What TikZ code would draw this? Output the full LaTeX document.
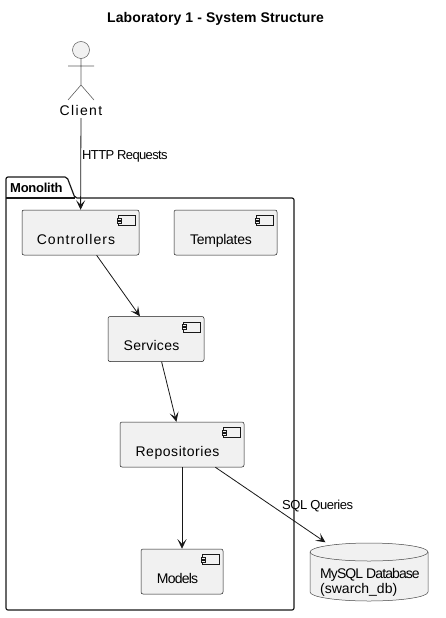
\documentclass[tikz,border=0pt]{standalone}
\usepackage{fontspec}
\setmainfont{Liberation Sans}
\usetikzlibrary{arrows.meta}
\definecolor{lineblack}{HTML}{181818}
\definecolor{boxgrey}{HTML}{F1F1F1}
\newcommand{\spaced}[2]{{\addfontfeature{LetterSpace=#1}#2}}
\tikzset{
  comptext/.style={font=\fontsize{14}{16}\selectfont, text=black, inner sep=0pt, text height=10pt, text depth=3pt},
  compbox/.style={draw=lineblack, line width=0.5pt, fill=boxgrey, rounded corners=2pt, minimum height=45pt, inner sep=0pt,
    label={[comptext, xshift=-4.5pt, yshift=-8pt]center:#1}},
  edgetext/.style={font=\fontsize{13}{15}\selectfont, inner sep=0pt},
  flow/.style={draw=lineblack, line width=0.8pt, -{Stealth[length=9.5pt, width=9pt, inset=4.5pt]}},
}
\begin{document}
\begin{tikzpicture}[x=1pt, y=-1pt]
  \useasboundingbox (0,0) rectangle (445,618);
  \node [font=\bfseries\fontsize{14}{16}\selectfont] (title) at (215.5,18.5) {\spaced{1}{Laboratory 1 - System Structure}};
  % package
  \draw [lineblack, line width=1.2pt, rounded corners=2pt, fill=white] (6,198) -- (6,177) -- (67,177) -- (75,198) -- (294,198) -- (294,610) -- (6,610) -- cycle;
  \draw [lineblack, line width=1.2pt] (6,198) -- (75,198);
  \node [right, inner sep=0pt, font=\bfseries\fontsize{13}{15}\selectfont] (monolith) at (10,188) {\spaced{-2}{Monolith}};
  % actor
  \draw [lineblack!70, line width=0.5pt, fill=boxgrey] (81,50) circle (8.5);
  \draw [lineblack!70, line width=0.6pt] (81,58.5) -- (81,85) (68,66) -- (94,66) (68,100) -- (81,85) -- (94,100);
  \node [comptext] (client) at (81,111.5) {\spaced{9.6}{Client}};
  % components
  \node [compbox={\spaced{7.6}{Controllers}}, minimum width=117pt] (controllers) at (80.5,232.5) {};
  \node [compbox={\spaced{-2}{Templates}}, minimum width=103pt] (templates) at (225.5,232.5) {};
  \node [compbox={\spaced{2}{Services}}, minimum width=96pt] (services) at (156,339) {};
  \node [compbox={\spaced{4}{Repositories}}, minimum width=124pt] (repositories) at (182,444.5) {};
  \node [compbox={\spaced{-5.7}{Models}}, minimum width=82pt] (models) at (182,571.5) {};
  \foreach \n in {controllers,templates,services,repositories,models} {
    \draw [lineblack, line width=0.4pt, fill=boxgrey] ([shift={(-21,5.5)}]\n.north east) rectangle ([shift={(-4,15.5)}]\n.north east);
    \draw [lineblack, line width=0.4pt, fill=boxgrey] ([shift={(-22.5,8)}]\n.north east) rectangle ([shift={(-18,10)}]\n.north east);
    \draw [lineblack, line width=0.4pt, fill=boxgrey] ([shift={(-22.5,11)}]\n.north east) rectangle ([shift={(-18,13)}]\n.north east);
  }
  % database
  \draw [lineblack!80, line width=0.5pt, fill=boxgrey] (310,552) arc [x radius=59, y radius=-9, start angle=180, end angle=0] -- (428,592) arc [x radius=59, y radius=-9, start angle=0, end angle=-180] -- cycle;
  \draw [lineblack!80, line width=0.5pt] (310,552) arc [x radius=59, y radius=-9, start angle=180, end angle=360];
  \node [minimum width=118pt, minimum height=59pt, inner sep=0pt] (db) at (369,572) {};
  \node [right, inner sep=0pt, align=left, font=\fontsize{14}{15}\selectfont] (dbtext) at (320,582.5) {\spaced{-6.5}{MySQL Database}\\(swarch\_db)};
  % connectors
  \draw [flow] (client) -- (controllers);
  \draw [flow] (controllers) -- (services);
  \draw [flow] (services) -- (repositories);
  \draw [flow] (repositories) -- (models);
  \draw [flow] (repositories) -- (db);
  \node [edgetext, right] (http) at (82,156.5) {\spaced{-4.9}{HTTP Requests}};
  \node [edgetext, right] (sql) at (282,506.5) {\spaced{-3.6}{SQL Queries}};
\end{tikzpicture}
\end{document}
